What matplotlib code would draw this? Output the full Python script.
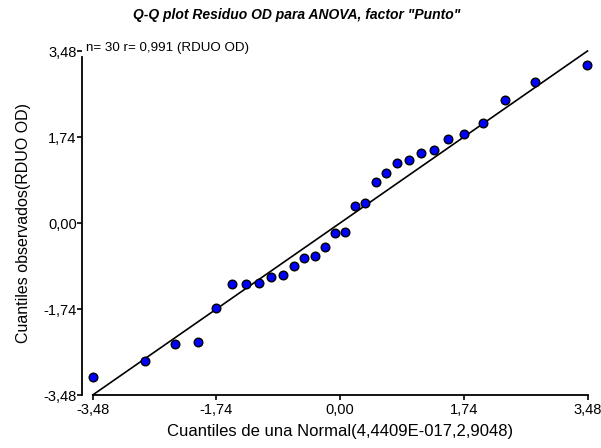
import matplotlib
matplotlib.use("Agg")
import matplotlib.pyplot as plt

plt.rcParams['font.family'] = ['Liberation Sans', 'DejaVu Sans']

# Theoretical normal quantiles (x) and ordered observed residuals (y)
theoretical = [-3.479, -2.744, -2.318, -2.004, -1.745, -1.522, -1.322, -1.139,
               -0.967, -0.806, -0.651, -0.502, -0.355, -0.211, -0.071,
               0.071, 0.211, 0.355, 0.502, 0.651, 0.806, 0.967, 1.139,
               1.322, 1.522, 1.745, 2.004, 2.318, 2.744, 3.479]
observed = [-3.11, -2.80, -2.45, -2.40, -1.71, -1.23, -1.23, -1.21,
            -1.09, -1.05, -0.88, -0.70, -0.67, -0.49, -0.20,
            -0.19, 0.34, 0.40, 0.82, 1.01, 1.22, 1.28, 1.41,
            1.48, 1.69, 1.81, 2.02, 2.49, 2.85, 3.19]

ticks = [-3.48, -1.74, 0.0, 1.74, 3.48]
tick_labels = ["-3,48", "-1,74", "0,00", "1,74", "3,48"]
ref_line = [-3.48, 3.48]

title = 'Q-Q plot Residuo OD para ANOVA, factor "Punto"'
stats_text = "n= 30 r= 0,991 (RDUO OD)"
xlabel = "Cuantiles de una Normal(4,4409E-017,2,9048)"
ylabel = "Cuantiles observados(RDUO OD)"

W, H = 601, 448
fig = plt.figure(figsize=(W / 100, H / 100), dpi=100)
left, right, top, bottom = 92.7, 587.5, 51.0, 395.0
ax = fig.add_axes([left / W, 1 - bottom / H, (right - left) / W, (bottom - top) / H])

# Reference line y = x
ax.plot(ref_line, ref_line, color="black", lw=1.2, clip_on=False, zorder=2)

# Points
ax.plot(theoretical, observed, linestyle="none", marker="o", markersize=6.2,
        markerfacecolor="#0000ff", markeredgecolor="black", markeredgewidth=1.0,
        clip_on=False, zorder=3)

ax.set_xlim(-3.48, 3.48)
ax.set_ylim(-3.48, 3.48)

ax.spines['top'].set_visible(False)
ax.spines['right'].set_visible(False)
ax.spines['left'].set_position(('outward', 8))
ax.spines['left'].set_bounds(-3.48, 3.35)
for s in ('left', 'bottom'):
    ax.spines[s].set_linewidth(1.3)

ax.set_xticks(ticks)
ax.set_xticklabels(tick_labels)
ax.set_yticks(ticks)
ax.set_yticklabels(tick_labels)
ax.tick_params(axis='both', direction='out', length=3.5, width=1.2,
               labelsize=10.5, colors='black')
ax.tick_params(axis='y', pad=0)
ax.tick_params(axis='x', pad=2)

ax.set_xlabel(xlabel, fontsize=12, labelpad=5)
ax.set_ylabel(ylabel, fontsize=11.5, labelpad=9)

fig.text(297 / W, 1 - 15 / H, title, ha='center', va='center',
         fontsize=10, fontweight='bold', fontstyle='italic')
fig.text(86 / W, 1 - 48 / H, stats_text, ha='left', va='center', fontsize=9.6)

fig.savefig("out.png", dpi=100)
